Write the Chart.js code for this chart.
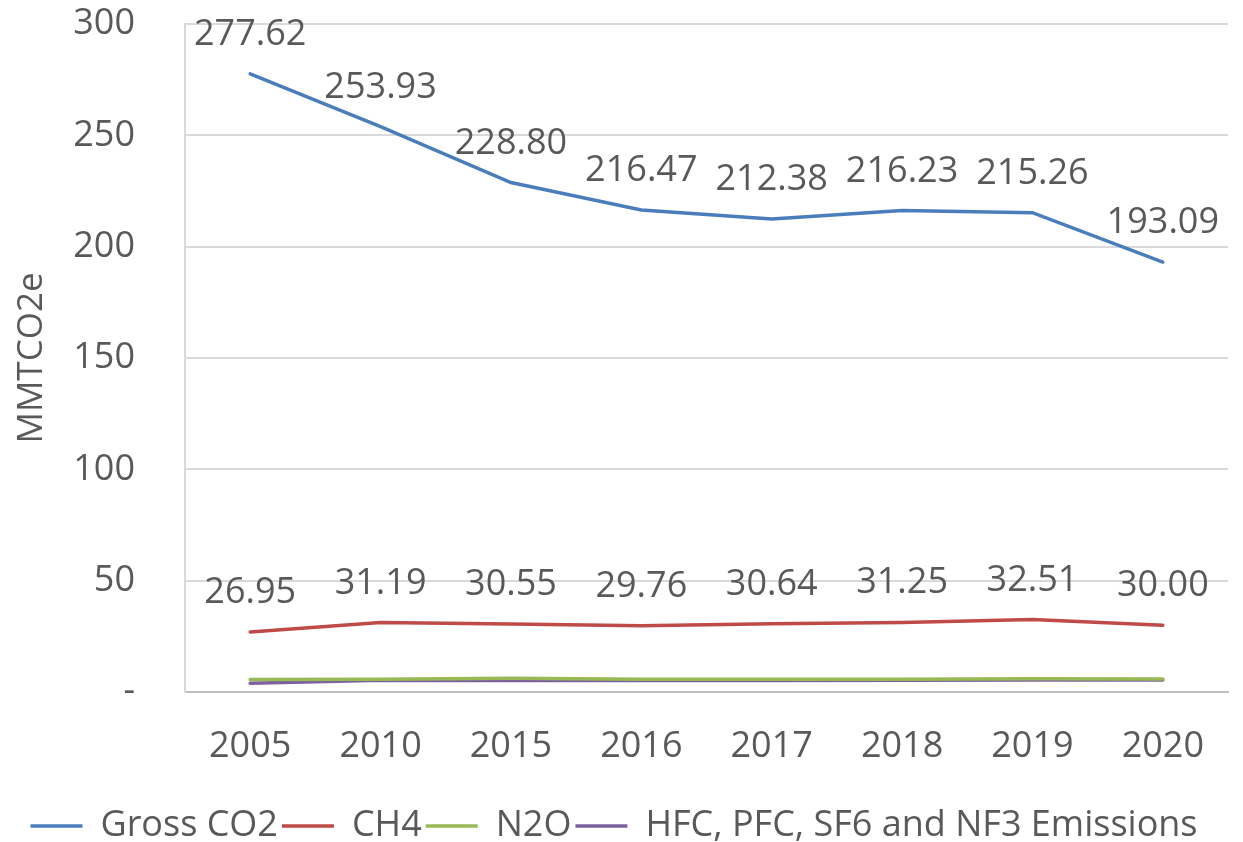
<!DOCTYPE html>
<html>
<head>
<meta charset="utf-8">
<script src="https://cdn.jsdelivr.net/npm/chart.js@4.4.1/dist/chart.umd.min.js"></script>
<style>
  html, body { margin: 0; padding: 0; background: #fff; }
  #wrap { width: 1243px; height: 842px; }
</style>
</head>
<body>
<div id="wrap"><canvas id="chart" width="1243" height="842"></canvas></div>
<script>
var years = ["2005", "2010", "2015", "2016", "2017", "2018", "2019", "2020"];
var grossCO2 = [277.62, 253.93, 228.80, 216.47, 212.38, 216.23, 215.26, 193.09];
var ch4 = [26.95, 31.19, 30.55, 29.76, 30.64, 31.25, 32.51, 30.00];
var n2o = [5.6, 5.7, 6.2, 5.7, 5.7, 5.7, 5.9, 5.8];
var hfc = [3.9, 5.3, 5.2, 5.2, 5.2, 5.3, 5.4, 5.4];

var textColor = "#595959";
var fontFamily = "'Open Sans', 'Liberation Sans', sans-serif";

// value labels above the CO2 and CH4 lines
var valueLabels = {
  id: 'valueLabels',
  afterDatasetsDraw: function (chart) {
    var ctx = chart.ctx;
    ctx.save();
    ctx.font = "36px " + fontFamily;
    ctx.fillStyle = textColor;
    ctx.textAlign = "center";
    ctx.textBaseline = "alphabetic";
    [0, 1].forEach(function (di) {
      var meta = chart.getDatasetMeta(di);
      var data = chart.data.datasets[di].data;
      meta.data.forEach(function (pt, i) {
        ctx.fillText(data[i].toFixed(2), pt.x, pt.y - 29);
      });
    });
    ctx.restore();
  }
};

new Chart(document.getElementById("chart"), {
  type: 'line',
  data: {
    labels: years,
    datasets: [{
      label: "Gross CO2", data: grossCO2, borderColor: "#4A7EBB", backgroundColor: "#4A7EBB", borderWidth: 3.5
    }, {
      label: "CH4", data: ch4, borderColor: "#BE4B48", backgroundColor: "#BE4B48", borderWidth: 3.5
    }, {
      label: "N2O", data: n2o, borderColor: "#98B954", backgroundColor: "#98B954", borderWidth: 3.5
    }, {
      label: "HFC, PFC, SF6 and NF3 Emissions", data: hfc, borderColor: "#7D60A0", backgroundColor: "#7D60A0", borderWidth: 3.5
    }]
  },
  options: {
    responsive: false,
    animation: false,
    // negative bottom padding pushes the legend down to the canvas edge
    layout: { padding: { top: 24, right: 15, left: 0, bottom: -12 } },
    elements: {
      line: { tension: 0, borderCapStyle: 'round' },
      point: { radius: 0 }
    },
    plugins: {
      tooltip: { enabled: false },
      legend: {
        position: 'bottom',
        labels: {
          usePointStyle: true,
          pointStyle: 'line',
          pointStyleWidth: 52,
          padding: 4,
          color: textColor,
          font: { size: 36, family: fontFamily, lineHeight: 0.9 }
        }
      }
    },
    scales: {
      x: {
        offset: true,
        afterFit: function (scale) { scale.height = 112; },
        grid: { display: false, drawTicks: false },
        border: { display: true, color: "#BFBFBF", width: 2 },
        ticks: {
          color: textColor,
          padding: 33,
          maxRotation: 0,
          font: { size: 36, family: fontFamily }
        }
      },
      y: {
        min: 0,
        max: 300,
        afterFit: function (scale) {
          scale.width = 185;
          scale.paddingTop = 0;
          scale.paddingBottom = 0;
        },
        grid: { color: "#D9D9D9", lineWidth: 2, drawTicks: false },
        border: { display: true, color: "#D9D9D9", width: 2 },
        title: {
          display: true,
          text: "MMTCO2e",
          color: textColor,
          padding: { top: 11, bottom: 0 },
          font: { size: 35, family: fontFamily }
        },
        ticks: {
          stepSize: 50,
          color: textColor,
          padding: 50,
          font: { size: 36, family: fontFamily },
          callback: function (v) { return v === 0 ? "-" : v; }
        }
      }
    }
  },
  plugins: [valueLabels]
});
</script>
</body>
</html>
